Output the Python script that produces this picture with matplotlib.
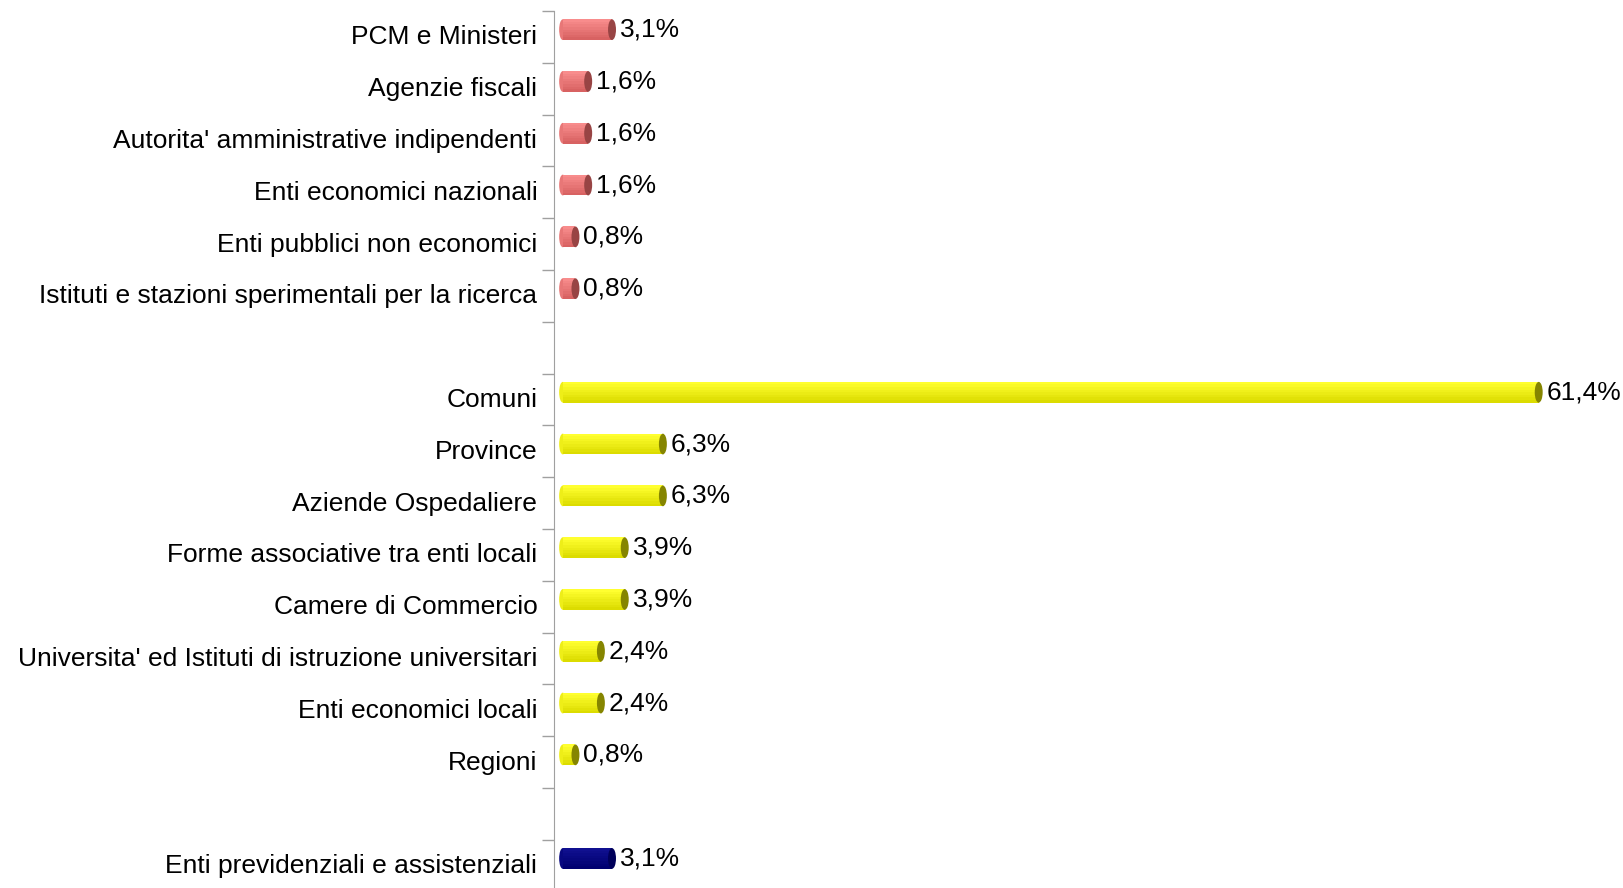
import matplotlib.pyplot as plt
import numpy as np
from matplotlib.colors import to_rgb
from matplotlib.patches import Ellipse

plt.rcParams["font.family"] = ["Liberation Sans", "DejaVu Sans"]

# categories top to bottom; "" marks the blank rows between groups
categories = [
    "PCM e Ministeri",
    "Agenzie fiscali",
    "Autorita' amministrative indipendenti",
    "Enti economici nazionali",
    "Enti pubblici non economici",
    "Istituti e stazioni sperimentali per la ricerca",
    "",
    "Comuni",
    "Province",
    "Aziende Ospedaliere",
    "Forme associative tra enti locali",
    "Camere di Commercio",
    "Universita' ed Istituti di istruzione universitari",
    "Enti economici locali",
    "Regioni",
    "",
    "Enti previdenziali e assistenziali",
]
values = [3.1, 1.6, 1.6, 1.6, 0.8, 0.8, None,
          61.4, 6.3, 6.3, 3.9, 3.9, 2.4, 2.4, 0.8, None,
          3.1]
groups = ["c", "c", "c", "c", "c", "c", None,
          "l", "l", "l", "l", "l", "l", "l", "l", None,
          "p"]

light = {"c": "#f88c8c", "l": "#ffff30", "p": "#101090"}
dark = {"c": "#d86262", "l": "#dcdc00", "p": "#000070"}
cap = {"c": "#984444", "l": "#858500", "p": "#00005a"}


def blend(a, b, t):
    a, b = np.array(to_rgb(a)), np.array(to_rgb(b))
    return tuple(a + (b - a) * t)


W, H = 1624, 888
fig = plt.figure(figsize=(W / 100, H / 100), dpi=100)
row_px = 51.8
n = len(categories)
top_px = 11
ax = fig.add_axes([554 / W, 1 - (top_px + n * row_px) / H, 1030 / W, n * row_px / H])

x0 = 0.55
bar_h = 0.40
off = -0.14
nstripe = 8
for i, (v, g) in enumerate(zip(values, groups)):
    if v is None:
        continue
    yc = i + off
    ax.add_patch(Ellipse((x0, yc), 0.45, bar_h, facecolor=blend(light[g], dark[g], 0.5),
                         edgecolor="none"))
    for k in range(nstripe):
        t = k / (nstripe - 1)
        sh = bar_h / nstripe
        ax.barh(yc - bar_h / 2 + sh * (k + 0.5), v, height=sh * 1.05, left=x0,
                color=blend(light[g], dark[g], t), edgecolor="none")
    ax.add_patch(Ellipse((x0 + v, yc), 0.5, bar_h, facecolor=cap[g], edgecolor="none"))
    ax.text(x0 + v + 0.5, yc, f"{v:.1f}%".replace(".", ","),
            va="center", ha="left", fontsize=19)

ax.set_xlim(0, 64.8)
ax.set_ylim(n - 0.5, -0.5)

ax.set_yticks(np.arange(n) - 0.04)
ax.set_yticklabels(categories, fontsize=19)
ax.tick_params(axis="y", which="major", length=0, pad=12)
ax.set_yticks(np.arange(n + 1) - 0.5, minor=True)
ax.tick_params(axis="y", which="minor", length=8.6, color="#a0a0a0", width=1)
ax.set_xticks([])

for s in ["top", "right", "bottom"]:
    ax.spines[s].set_visible(False)
ax.spines["left"].set_color("#a0a0a0")

fig.savefig("out.png", dpi=100)
